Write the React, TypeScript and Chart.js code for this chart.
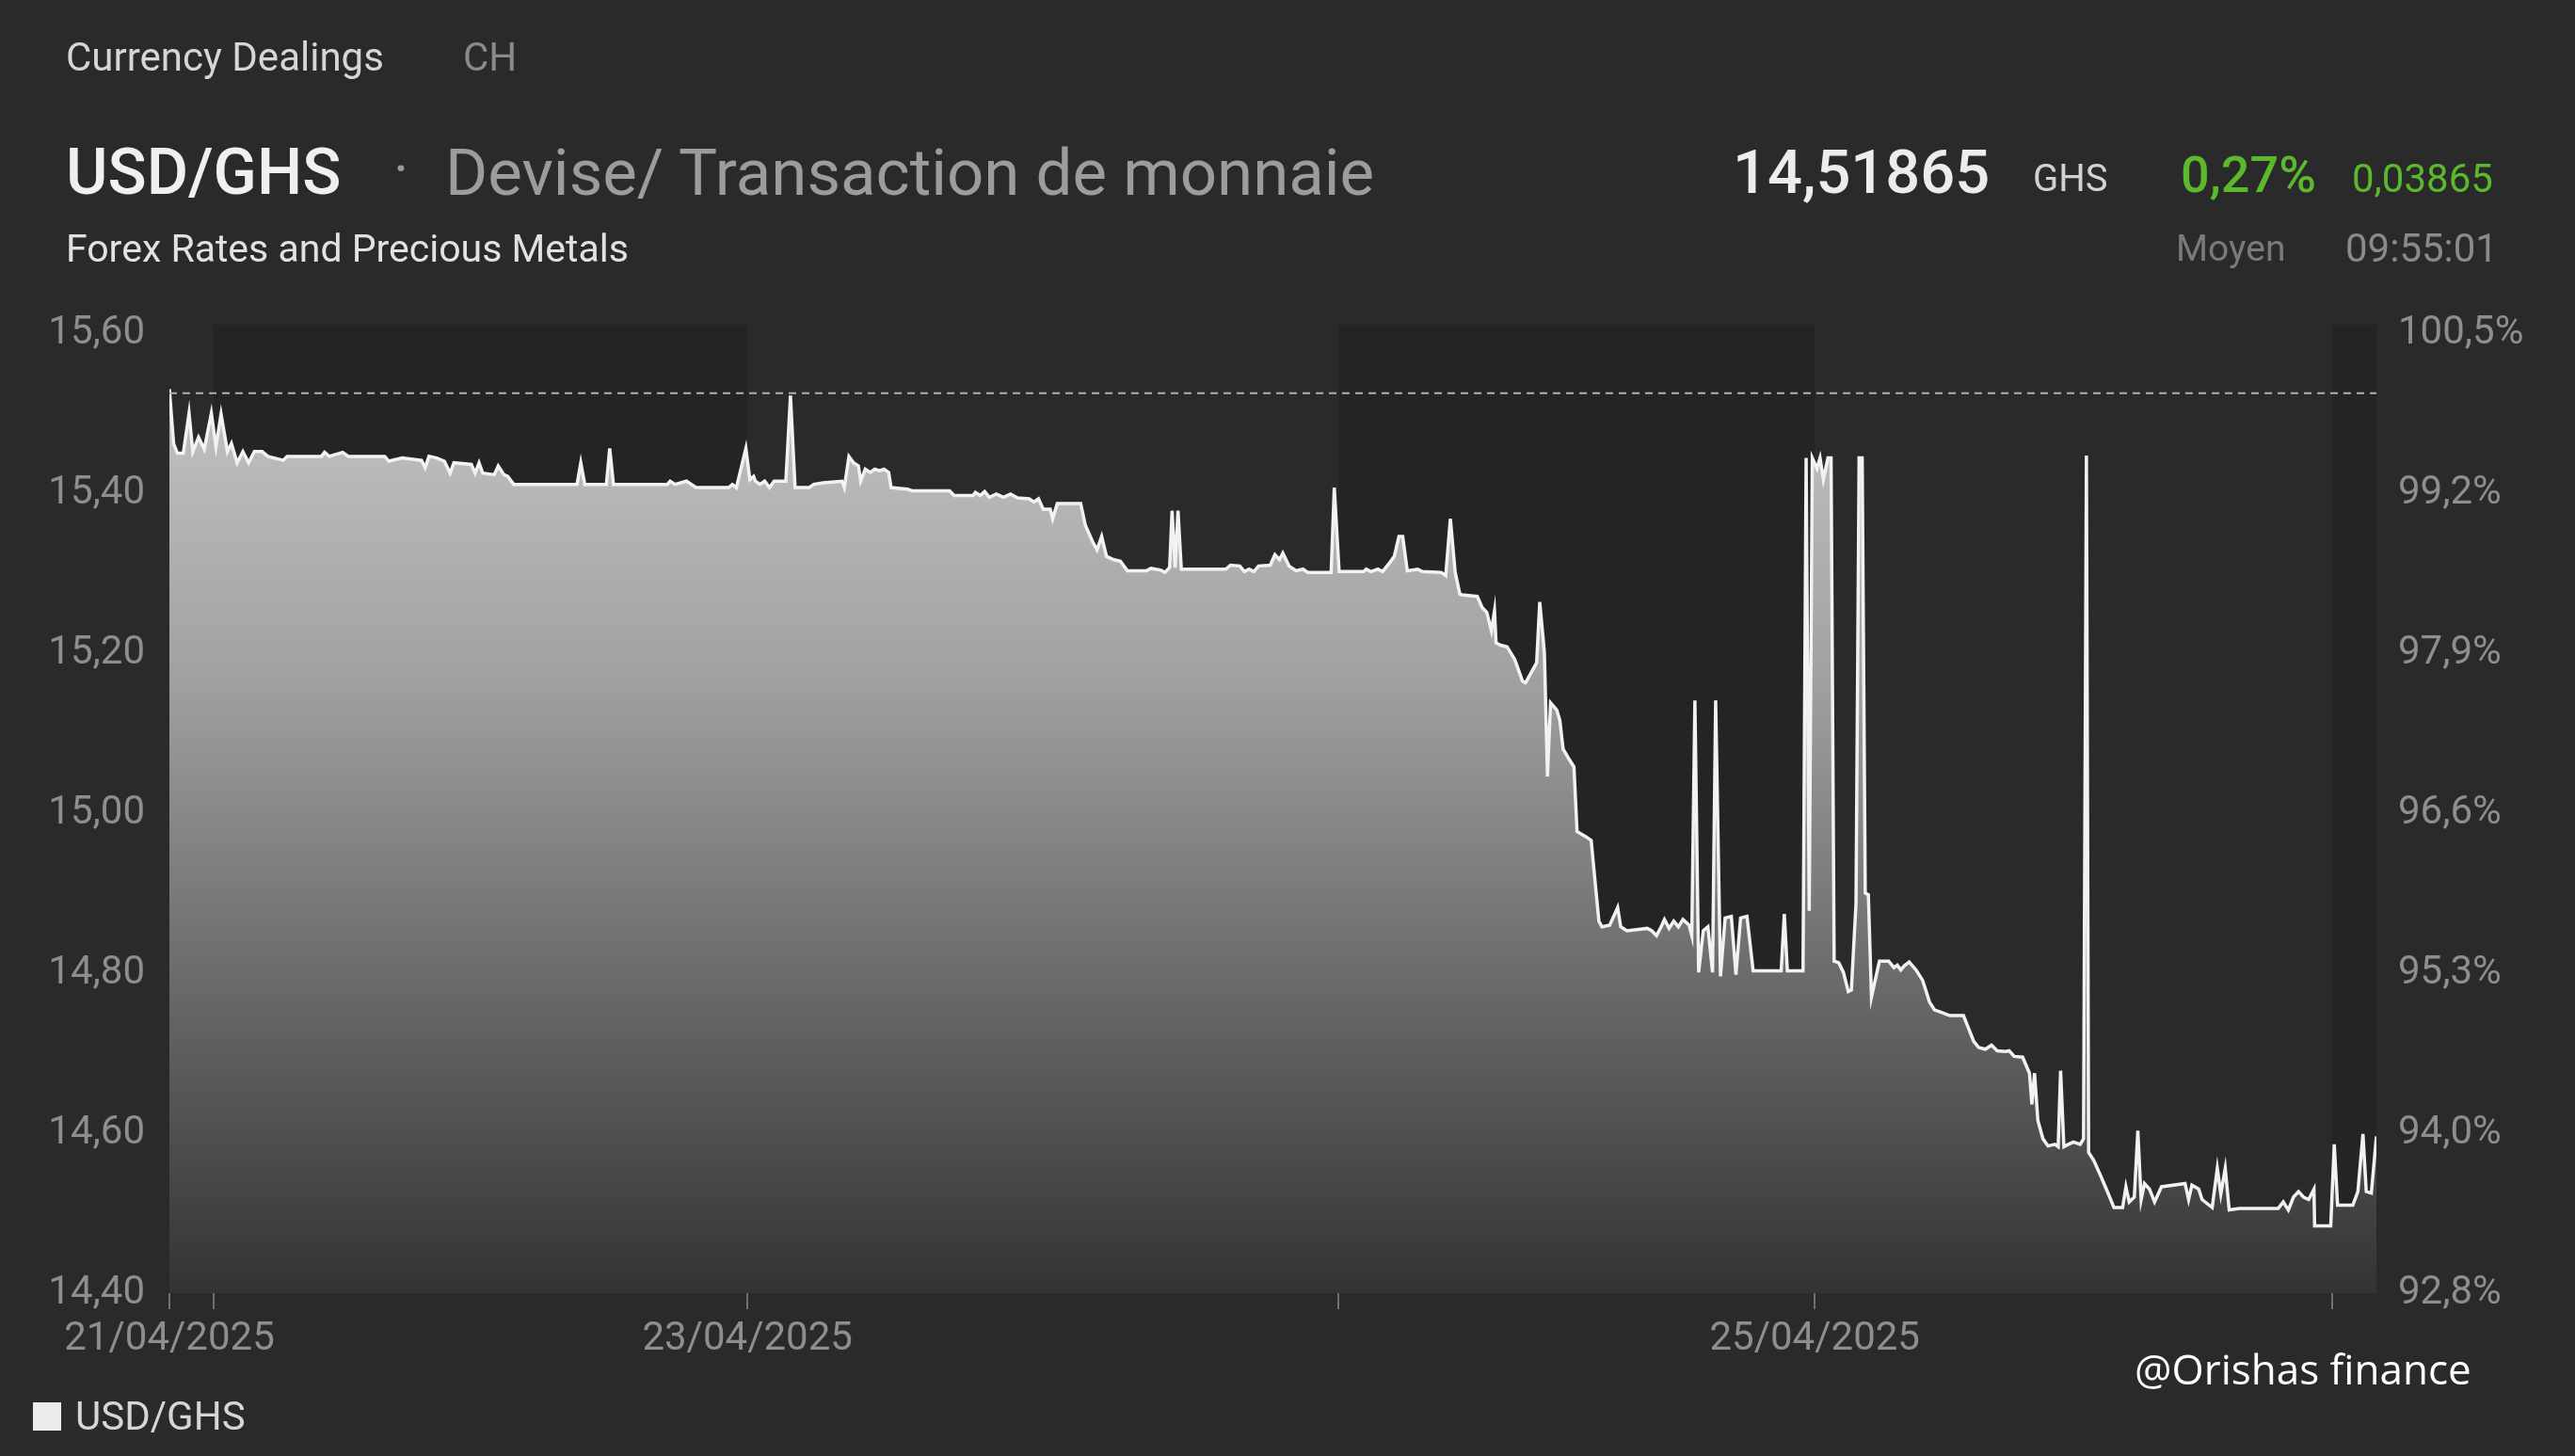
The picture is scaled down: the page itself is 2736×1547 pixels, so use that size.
import React, { useEffect, useRef } from "react";
import { Chart, registerables } from "chart.js";

Chart.register(...registerables);

// ---------- data ----------
const seriesLabel = "USD/GHS";
const referenceClose = 15.525; // previous close (dashed line, 100 %)
const yTickValues = [14.4, 14.6, 14.8, 15.0, 15.2, 15.4, 15.6];
// x axis: hours since the start of the displayed window
const xTickHours = [0, 2.01, 26.19, 52.98, 74.55, 97.99];
const xTickLabels = ["21/04/2025", "", "23/04/2025", "", "25/04/2025", ""];
const shadedSessions = [
  [2.01, 26.19],
  [52.98, 74.55],
  [97.99, 100],
];

const sampleHours = [
  0.0, 0.19, 0.36, 0.63, 0.89, 1.06, 1.32, 1.58, 1.9, 2.11, 2.34, 2.63, 2.81, 3.07, 3.33, 3.59, 3.85, 4.2, 4.46, 5.16,
  5.33, 6.89, 7.03, 7.24, 7.85, 8.11, 9.76, 9.94, 10.55, 11.42, 11.59, 11.76, 12.11, 12.46, 12.72, 12.89, 13.68, 13.85,
  14.03, 14.2, 14.72, 14.9, 15.16, 15.33, 15.6, 18.47, 18.64, 18.82, 19.8, 19.95, 20.12, 22.56, 22.69, 22.91, 23.43,
  23.86, 25.34, 25.51, 25.69, 26.12, 26.3, 26.47,
  26.55, 26.76, 26.97, 27.19, 27.4, 27.93, 28.14, 28.35, 28.99, 29.2, 29.62, 30.47, 30.58, 30.79, 31.0, 31.22, 31.32,
  31.53, 31.75, 31.96, 32.17, 32.38, 32.59, 32.7, 33.44, 33.65, 35.35, 35.56, 36.41, 36.52, 36.73, 36.94, 37.15, 37.47,
  37.79, 38.11, 38.43, 38.96, 39.17, 39.38, 39.59, 39.91, 40.02, 40.23, 41.29, 41.5, 41.82, 42.03, 42.24, 42.46, 42.77,
  43.09, 43.41, 44.26, 44.47, 44.9, 45.11, 45.32, 45.43, 45.57, 45.7, 45.85, 47.86, 48.08, 48.5, 48.71, 48.92, 49.14,
  49.35, 49.88, 50.09, 50.3, 50.45, 50.73, 51.05, 51.36, 51.58, 52.64, 52.78, 53.0, 54.12, 54.23, 54.44, 54.76, 54.97,
  55.29, 55.5, 55.71, 55.88, 56.09, 56.56, 56.77, 57.62, 57.83, 58.04, 58.26, 58.47,
  58.56, 59.26, 59.48, 59.69, 59.9, 60.04, 60.11, 60.32, 60.61, 60.96, 61.31, 61.45, 61.95, 62.09, 62.3, 62.44, 62.58,
  62.86, 63.0, 63.15, 63.43, 63.64, 63.78, 64.21, 64.42, 64.77, 64.91, 65.26, 65.62, 65.76, 66.04, 66.96, 67.17, 67.38,
  67.59, 67.74, 67.95, 68.16, 68.37, 68.58, 68.86, 68.98, 69.12, 69.29, 69.5, 69.71, 69.92, 70.06, 70.28, 70.49, 70.77,
  70.98, 71.19, 71.48, 71.76, 73.03, 73.17, 73.31, 74.02, 74.16, 74.3, 74.44, 74.65, 74.79, 74.94, 75.15, 75.29, 75.43,
  75.64, 75.85, 76.07, 76.21, 76.42, 76.56, 76.7, 76.84, 76.98, 77.12, 77.48, 77.9,
  78.14, 78.29, 78.45, 78.6, 78.83, 79.14, 79.44, 79.75, 79.98, 80.29, 80.67, 81.29, 81.52, 81.75, 81.98, 82.28, 82.56,
  82.82, 83.2, 83.36, 83.59, 83.97, 84.28, 84.39, 84.51, 84.66, 84.89, 85.12, 85.43, 85.58, 85.69, 85.84, 86.04, 86.27,
  86.58, 86.73, 86.86, 86.96, 87.19, 87.5, 87.81, 88.11, 88.5, 88.65, 88.8, 89.03, 89.19, 89.34, 89.49, 89.72, 89.95,
  90.26, 91.33, 91.49, 91.64, 91.95, 92.1, 92.56, 92.79, 92.95, 93.15, 93.33, 93.79, 95.55, 95.78, 96.01, 96.24, 96.47,
  96.7, 96.93, 97.17, 97.2, 97.93, 98.09, 98.24, 98.93, 99.16, 99.39, 99.54, 99.77, 100.0,
];

const usdGhsRates = [
  15.53, 15.462, 15.45, 15.45, 15.5, 15.452, 15.47, 15.455, 15.5, 15.458, 15.499, 15.452, 15.462, 15.438, 15.452,
  15.438, 15.452, 15.452, 15.446, 15.441, 15.446, 15.446, 15.451, 15.446, 15.451, 15.446, 15.446, 15.44, 15.444,
  15.441, 15.432, 15.446, 15.444, 15.44, 15.425, 15.438, 15.436, 15.425, 15.438, 15.425, 15.423, 15.434, 15.423,
  15.421, 15.411, 15.411, 15.438, 15.411, 15.411, 15.456, 15.411, 15.411, 15.415, 15.411, 15.415, 15.407, 15.407,
  15.411, 15.407, 15.456, 15.417, 15.421,
  15.415, 15.411, 15.415, 15.407, 15.415, 15.415, 15.522, 15.407, 15.407, 15.411, 15.413, 15.415, 15.407, 15.446,
  15.438, 15.434, 15.415, 15.43, 15.426, 15.43, 15.428, 15.43, 15.426, 15.407, 15.405, 15.403, 15.403, 15.397, 15.397,
  15.401, 15.397, 15.402, 15.395, 15.399, 15.395, 15.399, 15.394, 15.393, 15.389, 15.393, 15.38, 15.38, 15.368,
  15.387, 15.387, 15.36, 15.34, 15.329, 15.346, 15.321, 15.317, 15.315, 15.303, 15.303, 15.306, 15.304, 15.301,
  15.307, 15.378, 15.307, 15.378, 15.305, 15.305, 15.31, 15.309, 15.302, 15.305, 15.302, 15.309, 15.31, 15.323,
  15.317, 15.325, 15.309, 15.303, 15.305, 15.301, 15.301, 15.407, 15.302, 15.302, 15.305, 15.302, 15.305, 15.302,
  15.313, 15.321, 15.346, 15.346, 15.303, 15.305, 15.302, 15.301, 15.297, 15.368, 15.301, 15.274,
  15.273, 15.271, 15.257, 15.251, 15.228, 15.253, 15.213, 15.21, 15.208, 15.192, 15.165, 15.163, 15.188, 15.264,
  15.201, 15.046, 15.138, 15.129, 15.116, 15.08, 15.067, 15.058, 14.977, 14.97, 14.966, 14.865, 14.858, 14.86, 14.882,
  14.858, 14.853, 14.856, 14.853, 14.847, 14.858, 14.867, 14.856, 14.865, 14.858, 14.867, 14.86, 14.847, 15.141,
  14.801, 14.853, 14.858, 14.801, 15.141, 14.796, 14.869, 14.871, 14.798, 14.869, 14.871, 14.803, 14.803, 14.874,
  14.803, 14.803, 15.444, 14.878, 15.444, 15.431, 15.444, 15.417, 15.444, 15.444, 14.815, 14.813, 14.801, 14.777,
  14.779, 14.887, 15.444, 15.444, 14.9, 14.898, 14.77, 14.815, 14.815,
  14.807, 14.81, 14.804, 14.809, 14.814, 14.804, 14.791, 14.764, 14.754, 14.751, 14.747, 14.747, 14.731, 14.715,
  14.707, 14.705, 14.71, 14.703, 14.702, 14.703, 14.696, 14.695, 14.675, 14.636, 14.675, 14.616, 14.593, 14.584,
  14.586, 14.583, 14.678, 14.583, 14.586, 14.589, 14.586, 14.593, 15.447, 14.576, 14.566, 14.547, 14.527, 14.507,
  14.507, 14.533, 14.514, 14.52, 14.603, 14.517, 14.537, 14.53, 14.514, 14.533, 14.537, 14.517, 14.535, 14.53, 14.517,
  14.507, 14.556, 14.524, 14.556, 14.504, 14.506, 14.506, 14.514, 14.504, 14.52, 14.527, 14.52, 14.517, 14.53, 14.484,
  14.484, 14.586, 14.51, 14.51, 14.527, 14.599, 14.527, 14.525, 14.596,
];

// ---------- styles ----------
const W = 2736;
const H = 1547;
const BG = "#2a2a2a";
const BAND = "#242424";
const AXIS_TEXT = "#8e8e8e";
const GREEN = "#5cb82c";
const FONT = "Roboto, 'Noto Sans', sans-serif";

const bandsPlugin = {
  id: "sessionBands",
  beforeDatasetsDraw(chart: any) {
    const { ctx, chartArea, scales } = chart;
    const x = scales.x;
    ctx.save();
    ctx.fillStyle = BAND;
    for (const [a, b] of shadedSessions) {
      const x0 = x.getPixelForValue(a);
      const x1 = x.getPixelForValue(b);
      ctx.fillRect(x0, chartArea.top - 9, x1 - x0, chartArea.bottom - chartArea.top + 9);
    }
    ctx.restore();
  },
};

const referencePlugin = {
  id: "referenceLine",
  afterDatasetsDraw(chart: any) {
    const { ctx, chartArea, scales } = chart;
    const y = scales.y.getPixelForValue(referenceClose);
    ctx.save();
    ctx.strokeStyle = "#b0b0b0";
    ctx.lineWidth = 2;
    ctx.setLineDash([8, 6]);
    ctx.beginPath();
    ctx.moveTo(chartArea.left, y);
    ctx.lineTo(chartArea.right, y);
    ctx.stroke();
    ctx.restore();
  },
};

function txt(
  text: string,
  left: number,
  centerY: number,
  size: number,
  color: string,
  weight = 400,
  family = FONT
) {
  return (
    <div
      style={{
        position: "absolute",
        left,
        top: centerY,
        transform: "translateY(-50%)",
        fontSize: size,
        lineHeight: 1,
        color,
        fontWeight: weight,
        fontFamily: family,
        whiteSpace: "nowrap",
      }}
    >
      {text}
    </div>
  );
}

export default function App() {
  const canvasRef = useRef<HTMLCanvasElement | null>(null);

  useEffect(() => {
    document.body.style.margin = "0";
    document.body.style.background = BG;
    const canvas = canvasRef.current;
    if (!canvas) return;

    const points = sampleHours.map((h, i) => ({ x: h, y: usdGhsRates[i] }));
    const tickFont = { family: FONT, size: 42 };

    const chart = new Chart(canvas, {
      type: "line",
      data: {
        datasets: [
          {
            label: seriesLabel,
            data: points,
            borderColor: "#f2f2f2",
            borderWidth: 3.5,
            pointRadius: 0,
            tension: 0,
            fill: "start",
            backgroundColor: (context: any) => {
              const { chart } = context;
              const { ctx, chartArea } = chart;
              if (!chartArea) return "#999";
              const g = ctx.createLinearGradient(0, chartArea.top, 0, chartArea.bottom);
              g.addColorStop(0, "#c8c8c8");
              g.addColorStop(0.35, "#a2a2a2");
              g.addColorStop(0.7, "#666666");
              g.addColorStop(1, "#333333");
              return g;
            },
          },
        ],
      },
      options: {
        animation: false,
        responsive: false,
        maintainAspectRatio: false,
        devicePixelRatio: 1,
        layout: { padding: { top: 354, left: 0, right: 0, bottom: 0 } },
        plugins: {
          legend: { display: false },
          tooltip: { enabled: false },
        },
        scales: {
          x: {
            type: "linear",
            min: 0,
            max: 100,
            afterBuildTicks: (s: any) => {
              s.ticks = xTickHours.map((v) => ({ value: v }));
            },
            afterFit: (s: any) => {
              s.height = 173;
            },
            ticks: {
              autoSkip: false,
              maxRotation: 0,
              minRotation: 0,
              color: AXIS_TEXT,
              font: tickFont,
              padding: 7,
              callback: (_v: any, i: number) => xTickLabels[i] ?? "",
            },
            grid: {
              display: true,
              drawOnChartArea: false,
              drawTicks: true,
              tickLength: 17,
              tickColor: "#707070",
              lineWidth: 2,
            },
            border: { display: false },
          },
          y: {
            position: "left",
            min: 14.4,
            max: 15.6,
            afterBuildTicks: (s: any) => {
              s.ticks = yTickValues.map((v) => ({ value: v }));
            },
            afterFit: (s: any) => {
              s.width = 180;
            },
            ticks: {
              color: AXIS_TEXT,
              font: tickFont,
              padding: 26,
              callback: (v: any) => Number(v).toFixed(2).replace(".", ","),
            },
            grid: { display: false, drawTicks: false },
            border: { display: false },
          },
          y1: {
            position: "right",
            min: 14.4,
            max: 15.6,
            afterBuildTicks: (s: any) => {
              s.ticks = yTickValues.map((v) => ({ value: v }));
            },
            afterFit: (s: any) => {
              s.width = W - 2525;
            },
            ticks: {
              color: AXIS_TEXT,
              font: tickFont,
              padding: 23,
              callback: (v: any) =>
                ((Number(v) / referenceClose) * 100).toFixed(1).replace(".", ",") + "%",
            },
            grid: { display: false, drawTicks: false },
            border: { display: false },
          },
        },
      } as any,
      plugins: [bandsPlugin, referencePlugin],
    });

    return () => chart.destroy();
  }, []);

  return (
    <div
      style={{
        position: "relative",
        width: W,
        height: H,
        background: BG,
        overflow: "hidden",
        fontFamily: FONT,
      }}
    >
      <canvas
        ref={canvasRef}
        width={W}
        height={H}
        style={{ position: "absolute", left: 0, top: 0, width: W, height: H }}
      />
      {txt("Currency Dealings", 70, 61, 42, "#d6d6d6")}
      {txt("CH", 492, 61, 42, "#8a8a8a")}
      {txt("USD/GHS", 70, 183, 68, "#f0f0f0", 500)}
      {txt("·", 418, 180, 62, "#9a9a9a")}
      {txt("Devise/ Transaction de monnaie", 473, 183, 69, "#9c9c9c")}
      {txt("Forex Rates and Precious Metals", 70, 264, 41, "#e2e2e2")}
      {txt("14,51865", 1841, 183, 65, "#ececec", 500)}
      {txt("GHS", 2160, 190, 40, "#d2d2d2")}
      {txt("0,27%", 2317, 186, 54, GREEN, 500)}
      {txt("0,03865", 2499, 190, 42, GREEN)}
      {txt("Moyen", 2312, 264, 39, "#7a7a7a")}
      {txt("09:55:01", 2492, 264, 42, "#8a8a8a")}
      <div
        style={{
          position: "absolute",
          left: 35,
          top: 1490,
          width: 30,
          height: 30,
          background: "#ececec",
        }}
      />
      {txt(seriesLabel, 80, 1505, 42, "#d6d6d6")}
      {txt("@Orishas finance", 2268, 1454, 44, "#ffffff", 400, "'Open Sans', sans-serif")}
    </div>
  );
}
